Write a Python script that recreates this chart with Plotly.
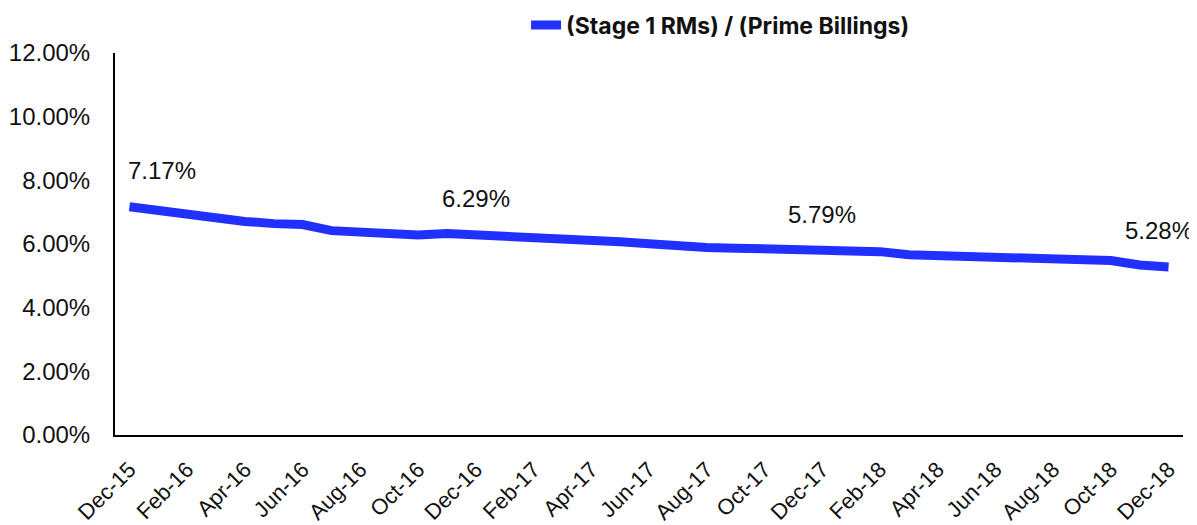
import plotly.graph_objects as go

months = ["Dec-15", "Jan-16", "Feb-16", "Mar-16", "Apr-16", "May-16", "Jun-16", "Jul-16",
          "Aug-16", "Sep-16", "Oct-16", "Nov-16", "Dec-16", "Jan-17", "Feb-17", "Mar-17",
          "Apr-17", "May-17", "Jun-17", "Jul-17", "Aug-17", "Sep-17", "Oct-17", "Nov-17",
          "Dec-17", "Jan-18", "Feb-18", "Mar-18", "Apr-18", "May-18", "Jun-18", "Jul-18",
          "Aug-18", "Sep-18", "Oct-18", "Nov-18", "Dec-18"]
ratio = [7.17, 7.04, 6.97, 6.83, 6.71, 6.64, 6.61, 6.42,
         6.38, 6.34, 6.28, 6.33, 6.29, 6.26, 6.24, 6.22,
         6.13, 6.07, 6.01, 5.93, 5.89, 5.87, 5.85, 5.81,
         5.79, 5.83, 5.76, 5.66, 5.64, 5.65, 5.59, 5.58,
         5.57, 5.52, 5.48, 5.34, 5.28]
tick_labels = months[::2]
y_ticks = [0, 2, 4, 6, 8, 10, 12]
labelled = ["Dec-15", "Dec-16", "Dec-17", "Dec-18"]
series_name = "(Stage 1 RMs) / (Prime Billings)"

# The page body has an 8px default margin, so the figure is sized 8px smaller.
fig = go.Figure()
fig.add_trace(go.Scatter(
    x=months, y=ratio, mode="lines", name=series_name,
    line=dict(color="#2230FF", width=9, shape="linear"),
))

label_xshift = {"Dec-15": 33, "Dec-16": 0, "Dec-17": 0, "Dec-18": -10}
for m in labelled:
    v = ratio[months.index(m)]
    fig.add_annotation(
        x=m, y=v, text=f"{v:.2f}%", showarrow=False,
        xanchor="center", yanchor="middle", yshift=36, xshift=label_xshift[m],
        font=dict(family="Arial, Liberation Sans", size=24, color="#111"),
    )

fig.update_layout(
    width=1189, height=517,
    margin=dict(l=107, r=14, t=45, b=90, autoexpand=False),
    plot_bgcolor="white", paper_bgcolor="white",
    showlegend=True,
    legend=dict(orientation="h", x=0.567, xanchor="center", xref="paper",
                y=0.967, yanchor="middle", yref="container",
                font=dict(family="Inter, Arial", size=23, color="#111", weight="bold"),
                bgcolor="rgba(0,0,0,0)"),
    font=dict(family="Arial, Liberation Sans", color="#111"),
)
fig.update_xaxes(
    type="category", tickvals=tick_labels, ticktext=tick_labels, tickangle=-45,
    showline=True, linecolor="black", linewidth=2, showgrid=False, ticks="",
    tickfont=dict(size=22, family="Arial, Liberation Sans", color="#111"),
    range=[-0.5, len(months) - 0.5], ticklabelstandoff=11, automargin=False,
)
fig.update_yaxes(
    range=[0, 12], tickvals=y_ticks, ticktext=[f"{t:.2f}%" for t in y_ticks],
    showline=True, linecolor="black", linewidth=2, showgrid=False, zeroline=False, ticks="",
    tickfont=dict(size=24, family="Arial, Liberation Sans", color="#111"),
    ticklabelstandoff=18, automargin=False,
)

fig.write_html("out.html")
